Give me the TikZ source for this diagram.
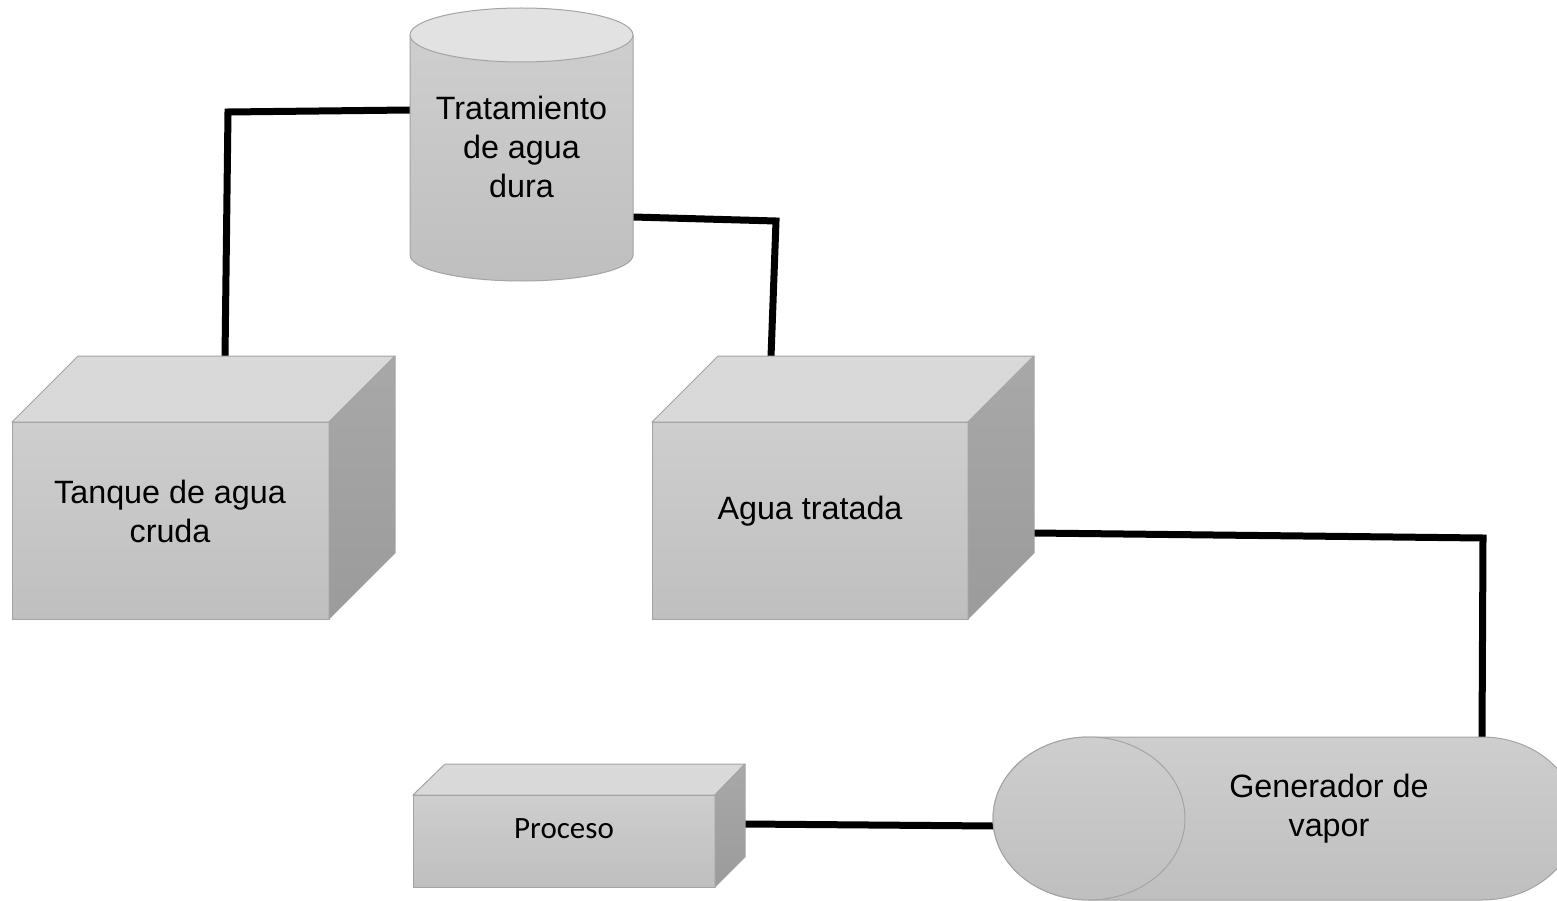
\documentclass[tikz,border=0pt]{standalone}
\usepackage{fontspec}
\setmainfont{Liberation Sans}
\newfontfamily\carlitofont{Carlito}
\definecolor{outl}{HTML}{A4A4A4}
\definecolor{fronttop}{HTML}{CECECE}
\definecolor{frontbot}{HTML}{BFBFBF}
\definecolor{topface}{HTML}{D9D9D9}
\definecolor{sidetop}{HTML}{A8A8A8}
\definecolor{sidebot}{HTML}{9B9B9B}
\definecolor{cyltop}{HTML}{E2E2E2}
\begin{document}
\begin{tikzpicture}[x=1pt,y=-1pt,
  outline/.style={draw=outl, line width=1pt, line join=round},
  frontface/.style={outline, top color=fronttop, bottom color=frontbot},
  topfacestyle/.style={outline, fill=topface},
  sideface/.style={outline, top color=sidetop, bottom color=sidebot},
  cylbody/.style={outline, top color=fronttop, bottom color=frontbot},
  cyllid/.style={outline, fill=cyltop},
  pipe/.style={draw=black, line width=7pt, line join=miter, line cap=butt},
  bigtext/.style={font=\fontsize{32.3}{39}\selectfont, align=center, text=black, inner sep=0pt},
  smalltext/.style={font=\carlitofont\fontsize{31}{36}\selectfont, align=center, text=black, inner sep=0pt}
]
\useasboundingbox (0,0) rectangle (1557,901);
\clip (0,0) rectangle (1557,901);

% connection points
\coordinate (tq-top) at (225,357);
\coordinate (tq-bend) at (228,112);
\coordinate (tr-left) at (410,110);
\coordinate (tr-right) at (633,217);
\coordinate (at-bend1) at (776,221);
\coordinate (at-top) at (771,357);
\coordinate (at-right) at (1034,533);
\coordinate (gv-bend) at (1483,538);
\coordinate (gv-top) at (1482,737);
\coordinate (pr-right) at (745,824);
\coordinate (gv-left) at (994,826);

% connectors
\draw[pipe] (tq-top) -- (tq-bend) -- (tr-left);
\draw[pipe] (tr-right) -- (at-bend1) -- (at-top);
\draw[pipe] (at-right) -- (gv-bend) -- (gv-top);
\draw[pipe] (pr-right) -- (gv-left);

% Tratamiento de agua dura (cylinder)
\path[cylbody] (410,35) -- (410,255) arc[start angle=180, end angle=0, x radius=111.5, y radius=26] -- (633,35) -- cycle;
\path[cyllid] (521.5,35) ellipse [x radius=111.5, y radius=27];
\node[bigtext] (trat) at (521.5,147) {Tratamiento\\de agua\\dura};

% Tanque de agua cruda (box)
\path[frontface] (12,422) rectangle (329,619);
\path[topfacestyle] (12,422) -- (78,356) -- (395,356) -- (329,422) -- cycle;
\path[sideface] (329,422) -- (395,356) -- (395,553) -- (329,619) -- cycle;
\node[bigtext] (tanque) at (170,511) {Tanque de agua\\cruda};

% Agua tratada (box)
\path[frontface] (652,422) rectangle (968,619);
\path[topfacestyle] (652,422) -- (718,356) -- (1034,356) -- (968,422) -- cycle;
\path[sideface] (968,422) -- (1034,356) -- (1034,553) -- (968,619) -- cycle;
\node[bigtext] (agua) at (810,511) {Agua tratada};

% Proceso (box)
\path[frontface] (413,795) rectangle (715,887);
\path[topfacestyle] (413,795) -- (445,764) -- (745,764) -- (715,795) -- cycle;
\path[sideface] (715,795) -- (745,764) -- (745,857) -- (715,887) -- cycle;
\node[smalltext] (proceso) at (564,829) {Proceso};

% Generador de vapor (horizontal cylinder)
\path[cylbody] (1089,737) -- (1482,737) arc[start angle=-90, end angle=90, x radius=95, y radius=81.5]
  -- (1089,900) arc[start angle=90, end angle=270, x radius=96, y radius=81.5] -- cycle;
\path[cylbody] (1089,818.5) ellipse [x radius=96, y radius=81.5];
\node[bigtext] (gen) at (1329,809) {Generador de\\vapor};
\end{tikzpicture}
\end{document}
